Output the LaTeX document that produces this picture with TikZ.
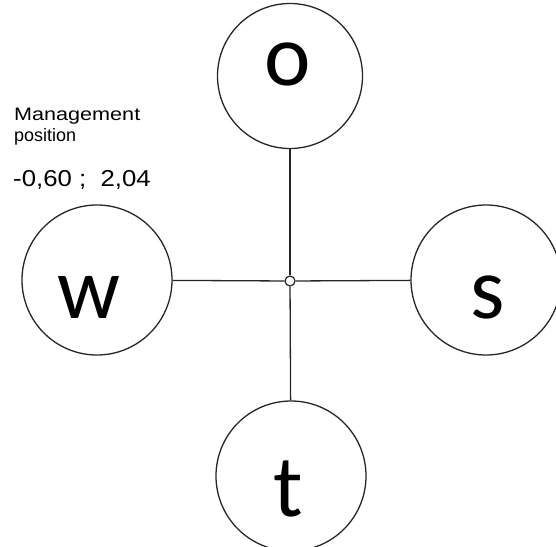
\documentclass[tikz,border=0pt]{standalone}
\usepackage{fontspec}
\setmainfont{Liberation Sans}
\newfontfamily\letterfont{Carlito}
\begin{document}
\begin{tikzpicture}[x=1pt,y=-1pt,
  bigcirc/.style={circle,draw=black!85,line width=1.3pt,minimum size=150pt,inner sep=0pt},
  letter/.style={anchor=base,inner sep=0pt,font=\letterfont\fontsize{88}{88}\selectfont},
  conn/.style={draw=black!85,line width=1.3pt},
  small/.style={anchor=base west,inner sep=0pt,font=\fontsize{18}{18}\selectfont}]
\useasboundingbox (0,0) rectangle (556,546);
\node[bigcirc,minimum size=145pt] (O) at (290,76) {};
\node[bigcirc] (W) at (97,280) {};
\node[bigcirc] (S) at (486,280) {};
\node[bigcirc] (T) at (291,476) {};
\node[circle,draw=black!85,fill=white,line width=1.2pt,minimum size=10pt,inner sep=0pt] (C) at (290,281) {};
\draw[conn] (O) -- (C);
\draw[conn] (W) -- (C);
\draw[conn] (S) -- (C);
\draw[conn] (T) -- (C);
\node[letter] (lo) at (288,85) {o};
\node[letter] (lw) at (89,318) {w};
\node[letter] (ls) at (488,318) {s};
\node[letter] (lt) at (288,516) {t};
\node[small] (m1) at (14,120) {\scalebox{1.2}[1]{Management}};
\node[small] (m2) at (14,141) {\scalebox{1.0}[1]{position}};
\node[anchor=base west,inner sep=0pt,font=\fontsize{23}{23}\selectfont] (val) at (13,186) {\scalebox{1.12}[1]{-0,60 ;\ \ 2,04}};
\end{tikzpicture}
\end{document}
